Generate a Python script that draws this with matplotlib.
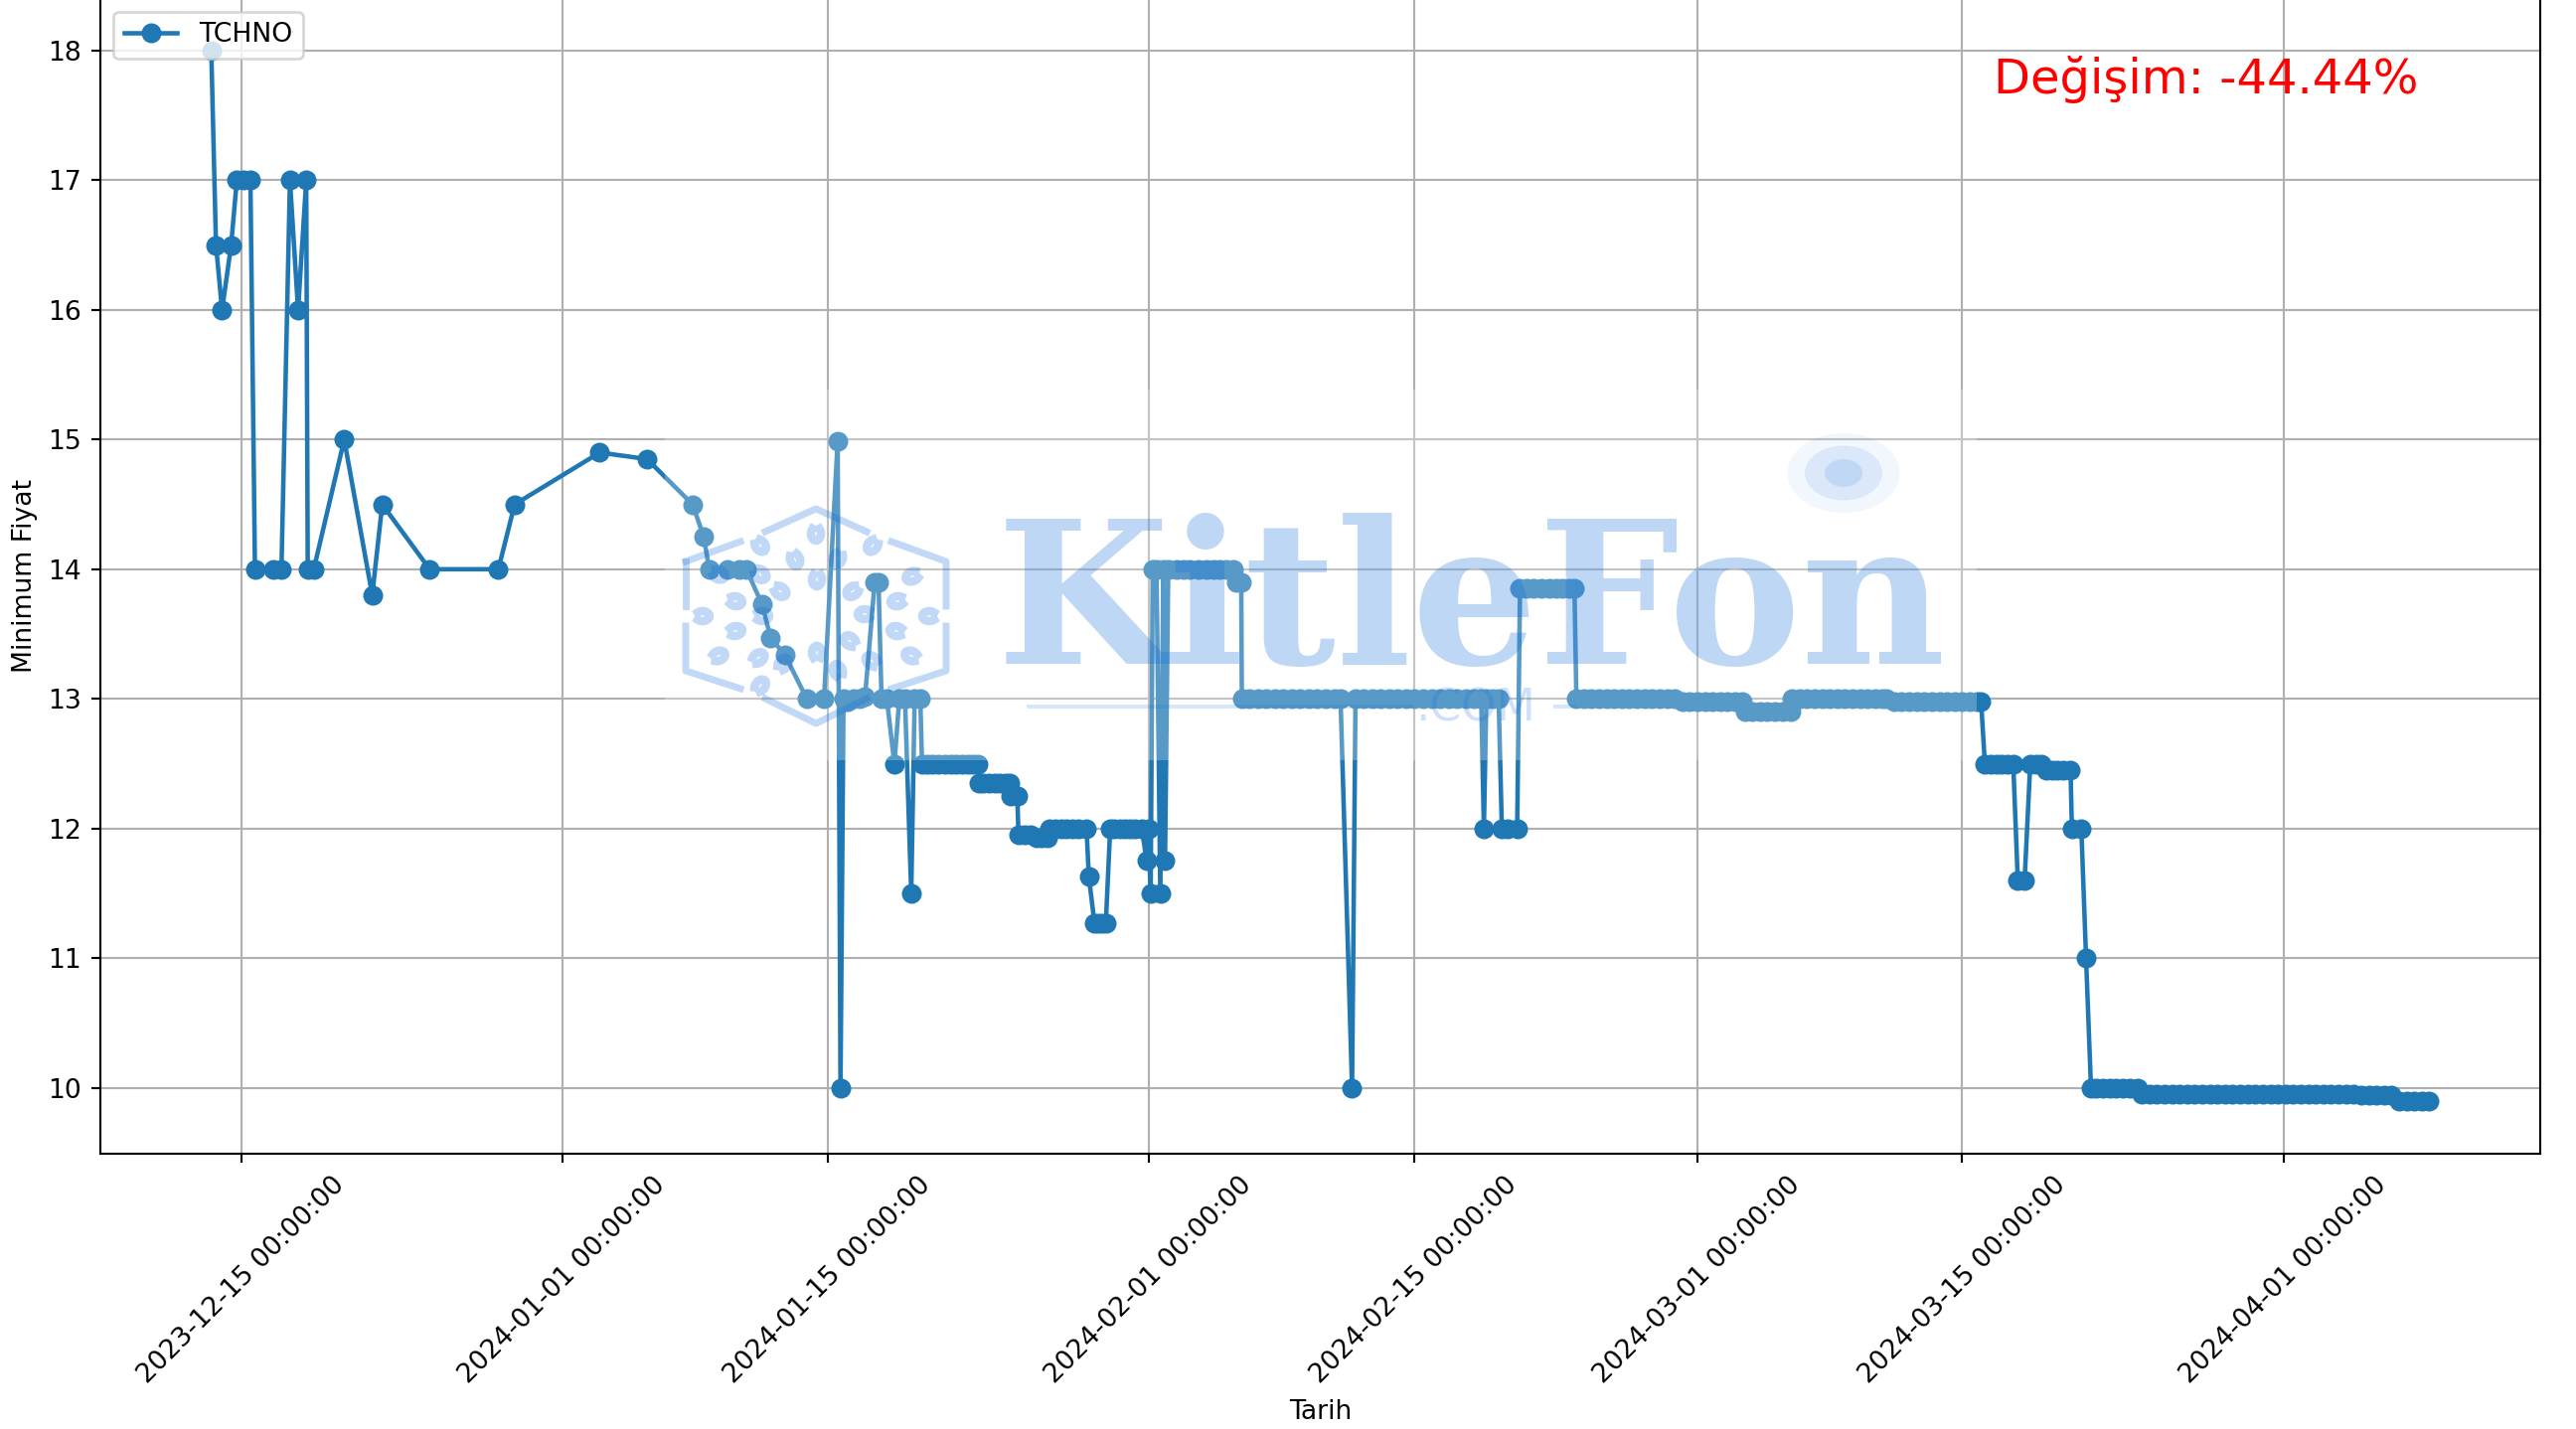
import matplotlib
matplotlib.use("Agg")
import matplotlib.pyplot as plt
import numpy as np
import pandas as pd
from matplotlib.lines import Line2D
from matplotlib.patches import Ellipse, Rectangle
from matplotlib.transforms import Affine2D

W, H = 2592, 1438
DPI = 192

baslangic = pd.Timestamp("2023-12-15")

# days after 2023-12-15
gun_ilk = [-1.58, -1.33, -1.01, -0.53, -0.23, 0.12, 0.49, 0.73, 1.70, 2.13, 2.58, 3.01,
           3.44, 3.52, 3.84, 5.45, 6.93, 7.46, 9.97, 13.6, 14.46, 18.96, 21.46, 23.87,
           24.46, 24.75, 25.72, 26.36, 26.71, 27.54, 28.0, 28.75, 29.91, 30.82, 31.54, 31.69]
fiyat_ilk = [18, 16.5, 16, 16.5, 17, 17, 17, 14, 14, 14, 17, 16,
             17, 14, 14, 15, 13.8, 14.5, 14, 14, 14.5, 14.9, 14.85, 14.5,
             14.25, 14, 14, 14, 14, 13.73, 13.47, 13.34, 13, 13, 14.99, 10]

gun_ocak = [31.85, 32.09, 32.39, 32.69, 32.99, 33.5, 33.7, 33.86, 34.14, 34.54, 34.8, 35.1, 35.43,
            35.61, 35.91, 36.0, 36.27, 36.55, 36.87, 37.2, 37.52, 37.82, 38.12, 38.42, 38.72, 38.96,
            39.0, 39.23, 39.53, 39.83, 40.13, 40.43, 40.63, 40.7, 41.04,
            41.1, 41.44, 41.74, 42.04, 42.34, 42.64,
            42.75, 43.05, 43.35, 43.65, 43.95, 44.25, 44.7, 44.82, 45.12, 45.3, 45.5, 45.72,
            45.95, 46.13, 46.48, 46.74, 47.0, 47.27, 47.62, 47.88, 47.97, 48.09]
fiyat_ocak = [13, 12.98, 13, 13, 13.02, 13.9, 13.9, 13, 13, 12.5, 13, 13, 11.5,
              13, 13, 12.5, 12.5, 12.5, 12.5, 12.5, 12.5, 12.5, 12.5, 12.5, 12.5, 12.5,
              12.35, 12.35, 12.35, 12.35, 12.35, 12.35, 12.35, 12.25, 12.25,
              11.95, 11.95, 11.95, 11.93, 11.93, 11.93,
              12, 12, 12, 12, 12, 12, 12, 11.63, 11.27, 11.27, 11.27, 11.27,
              12, 12, 12, 12, 12, 12, 12, 11.75, 12, 11.5]

gun_subat = [48.2, 48.4, 48.6, 48.76, 48.85, 49.02, 49.46, 49.81, 50.16, 50.6, 51.04, 51.39, 51.74,
             52.09, 52.44, 52.6, 52.88,
             52.91, 53.3, 53.75, 54.2, 54.65, 55.1, 55.55, 56.0, 56.45, 56.9, 57.35, 57.8, 58.13,
             58.74,
             58.92, 59.35, 59.8, 60.25, 60.7, 61.15, 61.6, 62.05, 62.5, 62.95, 63.4, 63.85, 64.3,
             64.75, 65.2, 65.57, 65.71, 65.84, 66.2, 66.49, 66.66, 66.97, 67.47,
             67.62, 67.95, 68.35, 68.75, 69.15, 69.55, 69.85, 70.2, 70.5]
fiyat_subat = [14, 14, 11.5, 14, 11.75, 14, 14, 14, 14, 14, 14, 14, 14,
               14, 14, 13.9, 13.9,
               13, 13, 13, 13, 13, 13, 13, 13, 13, 13, 13, 13, 13,
               10,
               13, 13, 13, 13, 13, 13, 13, 13, 13, 13, 13, 13, 13,
               13, 13, 13, 12, 13, 13, 13, 12, 12, 12,
               13.85, 13.85, 13.85, 13.85, 13.85, 13.85, 13.85, 13.85, 13.85]

gun_mart = [70.6, 71.0, 71.4, 71.8, 72.2, 72.6, 73.0, 73.4, 73.8, 74.2, 74.6, 75.0, 75.4, 75.8,
            76.2, 76.6, 77.0, 77.4, 77.8, 78.2, 78.6, 79.0, 79.35,
            79.5, 79.9, 80.3, 80.7, 81.1, 81.5, 81.95,
            82.0, 82.4, 82.8, 83.2, 83.6, 84.0, 84.4, 84.8, 85.2, 85.6, 86.0, 86.4, 86.8, 87.0,
            87.4, 87.8, 88.2, 88.6, 89.0, 89.4, 89.8, 90.2, 90.6, 91.0, 91.4, 91.75, 92.0]
fiyat_mart = [13, 13, 13, 13, 13, 13, 13, 13, 13, 13, 13, 13, 13, 13,
              12.98, 12.98, 12.98, 12.98, 12.98, 12.98, 12.98, 12.98, 12.98,
              12.9, 12.9, 12.9, 12.9, 12.9, 12.9, 12.9,
              13, 13, 13, 13, 13, 13, 13, 13, 13, 13, 13, 13, 13, 13,
              12.98, 12.98, 12.98, 12.98, 12.98, 12.98, 12.98, 12.98, 12.98, 12.98, 12.98, 12.98, 12.98]

gun_son = [92.2, 92.5, 92.8, 93.1, 93.4, 93.7, 93.94, 94.3, 94.6, 94.9, 95.2,
           95.44, 95.75, 96.05, 96.35, 96.73, 96.8, 97.3, 97.55,
           97.81, 98.1, 98.45, 98.8, 99.15, 99.5, 99.85, 100.3,
           100.5, 100.9, 101.3, 101.7, 102.1, 102.5, 102.9, 103.3, 103.7, 104.1,
           104.5, 104.9, 105.3, 105.7, 106.1, 106.5, 106.9, 107.3, 107.7, 108.1,
           108.5, 108.9, 109.3, 109.7, 110.1, 110.5, 110.9, 111.3, 111.7,
           112.1, 112.5, 112.9, 113.3, 113.7,
           114.1, 114.5, 114.9, 115.3, 115.7]
fiyat_son = [12.5, 12.5, 12.5, 12.5, 12.5, 12.5, 11.6, 11.6, 12.5, 12.5, 12.5,
             12.45, 12.45, 12.45, 12.45, 12.45, 12, 12, 11,
             10, 10, 10, 10, 10, 10, 10, 10,
             9.95, 9.95, 9.95, 9.95, 9.95, 9.95, 9.95, 9.95, 9.95, 9.95,
             9.95, 9.95, 9.95, 9.95, 9.95, 9.95, 9.95, 9.95, 9.95, 9.95,
             9.95, 9.95, 9.95, 9.95, 9.95, 9.95, 9.95, 9.95, 9.95,
             9.94, 9.94, 9.94, 9.94, 9.94,
             9.9, 9.9, 9.9, 9.9, 9.9]

tick_tarihleri = ["2023-12-15", "2024-01-01", "2024-01-15", "2024-02-01",
                  "2024-02-15", "2024-03-01", "2024-03-15", "2024-04-01"]

gunler = np.array(gun_ilk + gun_ocak + gun_subat + gun_mart + gun_son)
fiyatlar = np.array(fiyat_ilk + fiyat_ocak + fiyat_subat + fiyat_mart + fiyat_son)
sira = np.argsort(gunler, kind="stable")
tarihler = baslangic + pd.to_timedelta(gunler[sira], unit="D")
fiyatlar = fiyatlar[sira]

fig = plt.figure(figsize=(W / DPI, H / DPI), dpi=DPI)
ax = fig.add_axes([101 / W, (H - 1160.5) / H, 2455 / W, 1162.3 / H])

ax.plot(tarihler, fiyatlar, marker="o", markersize=6.5, linewidth=1.7, label="TCHNO")
ax.set_xticks(pd.to_datetime(tick_tarihleri))
ax.set_xticklabels([t + " 00:00:00" for t in tick_tarihleri], rotation=45)
ax.set_xlabel("Tarih")
ax.set_ylabel("Minimum Fiyat")
ax.grid(True)
ax.legend(loc="upper left")
ax.text(0.95, 0.95, "Değişim: -44.44%", transform=ax.transAxes, ha="right", va="top",
        fontsize=18, color="red")

# watermark, laid over the chart in picture pixels
piksel = Affine2D().scale(1, -1).translate(0, H).scale(1 / W, 1 / H) + fig.transFigure
mavi = "#0b6adc"


def filigran_ciz():
    fig.add_artist(Rectangle((669, 392), 1320, 373, transform=piksel, fc="white", ec="none",
                             alpha=0.26, zorder=1))
    fig.text(1003, 668, "KitleFon", transform=piksel, family="DejaVu Serif", weight="bold",
             fontsize=75, color=mavi, alpha=0.263, ha="left", va="baseline", zorder=3)
    fig.text(1424, 725, ".COM", transform=piksel, family="DejaVu Sans", fontsize=17,
             color=mavi, alpha=0.2, ha="left", va="baseline", zorder=3)
    for x0, x1 in [(1035, 1420), (1565, 1585)]:
        fig.add_artist(Line2D([x0, x1], [711, 711], transform=piksel, color=mavi, alpha=0.16,
                              lw=1.5, zorder=3))
    # dot over the n
    for g, y, a in [(113, 80, 0.05), (78, 55, 0.1), (38, 28, 0.12)]:
        fig.add_artist(Ellipse((1855, 476), g, y, transform=piksel, fc=mavi, ec="none",
                               alpha=a, zorder=3))
    # hexagon, broken at the sides
    kenarlar = [[(690, 565), (745, 545)], [(770, 535), (821, 512), (872, 535)],
                [(897, 545), (952, 565), (952, 610)], [(952, 630), (952, 675), (897, 693)],
                [(872, 703), (821, 728), (770, 703)], [(745, 693), (690, 675), (690, 630)],
                [(690, 610), (690, 565)]]
    for k in kenarlar:
        k = np.array(k)
        fig.add_artist(Line2D(k[:, 0], k[:, 1], transform=piksel, color=mavi, alpha=0.25,
                              lw=2.6, zorder=3))
    # crescents inside the hexagon
    hilaller = [(821, 537), (765, 549), (878, 549), (800, 563), (843, 562), (822, 583),
                (785, 595), (858, 595), (918, 580), (723, 578), (765, 578), (740, 605),
                (903, 605), (707, 620), (935, 620), (767, 620), (870, 618), (740, 635),
                (902, 635), (855, 645), (822, 657), (723, 660), (763, 662), (877, 665),
                (917, 660), (765, 690), (843, 675), (788, 668)]
    t = np.linspace(-0.75 * np.pi, 0.75 * np.pi, 25)
    for cx, cy in hilaller:
        yon = np.arctan2(cy - 620, cx - 821) + np.pi
        xs = cx + 7 * np.cos(t) * np.cos(yon) - 5 * np.sin(t) * np.sin(yon)
        ys = cy + 7 * np.cos(t) * np.sin(yon) + 5 * np.sin(t) * np.cos(yon)
        fig.add_artist(Line2D(xs, ys, transform=piksel, color=mavi, alpha=0.25, lw=3.2, zorder=3))


filigran_ciz()

plt.savefig("out.png", dpi=DPI)
plt.close()
